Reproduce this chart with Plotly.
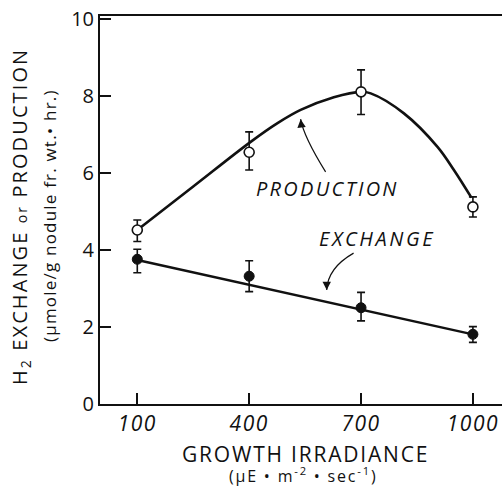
import plotly.graph_objects as go

# Growth irradiance levels (uE m-2 s-1)
irradiance = [100, 400, 700, 1000]

# H2 production (open circles) with upper / lower error limits
production = [4.52, 6.54, 8.11, 5.12]
production_hi = [4.78, 7.07, 8.68, 5.38]
production_lo = [4.22, 6.08, 7.52, 4.86]

# H2 exchange (filled circles) with upper / lower error limits
exchange = [3.76, 3.32, 2.50, 1.81]
exchange_hi = [4.02, 3.72, 2.90, 2.01]
exchange_lo = [3.41, 2.92, 2.16, 1.60]

# Hand-fitted production curve
production_fit_x = [100, 250, 404, 475, 538, 627, 699, 726, 815, 905, 949, 996]
production_fit_y = [4.52, 5.65, 6.81, 7.29, 7.64, 7.97, 8.11, 8.07, 7.55, 6.68, 6.08, 5.36]

# Straight line through the exchange data
exchange_fit_x = [100, 1000]
exchange_fit_y = [3.74, 1.81]

x_ticks = [100, 400, 700, 1000]
y_ticks = [0, 2, 4, 6, 8, 10]

FONT = "Open Sans"
INK = "#111111"
WEIGHT = 400


def spaced(text, px):
    """Wrap text in a span with extra letter spacing (wide lettering look)."""
    return f"<span style='letter-spacing:{px}px'>{text}</span>"


def plus(vals, hi):
    return [h - v for v, h in zip(vals, hi)]


def minus(vals, lo):
    return [v - l for v, l in zip(vals, lo)]


fig = go.Figure()

fig.add_trace(go.Scatter(
    x=production_fit_x, y=production_fit_y, mode="lines",
    line=dict(color=INK, width=2.6, shape="spline", smoothing=1.0),
    hoverinfo="skip", showlegend=False))

fig.add_trace(go.Scatter(
    x=exchange_fit_x, y=exchange_fit_y, mode="lines",
    line=dict(color=INK, width=2.4),
    hoverinfo="skip", showlegend=False))

err_style = dict(type="data", symmetric=False, color=INK, thickness=1.6, width=4)

fig.add_trace(go.Scatter(
    x=irradiance, y=production, mode="markers", name="PRODUCTION",
    marker=dict(symbol="circle", size=10, color="white",
                line=dict(color=INK, width=1.6)),
    error_y=dict(array=plus(production, production_hi),
                 arrayminus=minus(production, production_lo), **err_style),
    showlegend=False))

fig.add_trace(go.Scatter(
    x=irradiance, y=exchange, mode="markers", name="EXCHANGE",
    marker=dict(symbol="circle", size=10, color=INK,
                line=dict(color=INK, width=1)),
    error_y=dict(array=plus(exchange, exchange_hi),
                 arrayminus=minus(exchange, exchange_lo), **err_style),
    showlegend=False))

# Curved label pointers (quadratic paths) with arrowheads at the tips
pointers = [
    # (tail, control, tip)
    ((605, 6.03), (546, 6.95), (538, 7.40)),
    ((680, 3.92), (610, 3.53), (608, 2.96)),
]
for (x0, y0), (cx, cy), (x1, y1) in pointers:
    fig.add_shape(type="path", xref="x", yref="y",
                  path=f"M {x0},{y0} Q {cx},{cy} {x1},{y1}",
                  line=dict(color=INK, width=1.2))

fig.add_annotation(x=538, y=7.40, ax=1, ay=9, text="", showarrow=True,
                   arrowhead=2, arrowsize=1.4, arrowwidth=1.2, arrowcolor=INK)
fig.add_annotation(x=608, y=2.96, ax=0, ay=-9, text="", showarrow=True,
                   arrowhead=2, arrowsize=1.4, arrowwidth=1.2, arrowcolor=INK)

lab_font = dict(family=FONT, size=20, color=INK, style="italic", weight=WEIGHT)
fig.add_annotation(x=610, y=5.60, text=spaced("PRODUCTION", 2.3), showarrow=False,
                   xanchor="center", yanchor="middle", font=lab_font)
fig.add_annotation(x=744, y=4.31, text=spaced("EXCHANGE", 2.6), showarrow=False,
                   xanchor="center", yanchor="middle", font=lab_font)

# Axis titles
title_font = dict(family=FONT, size=20, color=INK, weight=WEIGHT)
fig.add_annotation(
    xref="paper", yref="paper", x=-0.1965, y=0.482, textangle=-90,
    xanchor="center", yanchor="middle",
    text=spaced("H<sub>2</sub> EXCHANGE <span style='font-size:14px'>or</span> PRODUCTION", 2.1),
    showarrow=False, font=title_font)
fig.add_annotation(
    xref="paper", yref="paper", x=-0.127, y=0.487, textangle=-90,
    xanchor="center", yanchor="middle",
    text=spaced("(\u03bcmole/g nodule fr. wt.\u2022 hr.)", 1.2),
    showarrow=False, font=dict(title_font, size=17))
fig.add_annotation(
    xref="paper", yref="paper", x=0.51, y=-0.128,
    xanchor="center", yanchor="middle",
    text=spaced("GROWTH IRRADIANCE", 1.8), showarrow=False,
    font=dict(title_font, size=21))
fig.add_annotation(
    xref="paper", yref="paper", x=0.505, y=-0.184,
    xanchor="center", yanchor="middle",
    text=spaced("(\u03bcE \u2022 m<sup>-2</sup> \u2022 sec<sup>-1</sup>)", 1.8),
    showarrow=False, font=dict(title_font, size=16))

fig.update_layout(
    width=502, height=488,
    margin=dict(l=100, r=0, t=16, b=84),
    paper_bgcolor="white", plot_bgcolor="white",
    font=dict(family=FONT, color=INK),
)
fig.update_xaxes(
    range=[0, 1078], tickvals=x_ticks, ticktext=[spaced(v, 1.5) for v in x_ticks],
    ticks="inside", ticklen=11, tickwidth=1.5, tickcolor=INK,
    showline=True, linecolor=INK, linewidth=2, mirror=True,
    showgrid=False, zeroline=False,
    tickfont=dict(family=FONT, size=21, color=INK, style="italic", weight=WEIGHT),
)
fig.update_yaxes(
    range=[0, 10.08], tickvals=y_ticks, ticktext=[str(v) for v in y_ticks],
    ticks="inside", ticklen=11, tickwidth=1.5, tickcolor=INK,
    showline=True, linecolor=INK, linewidth=2,
    showgrid=False, zeroline=False,
    tickfont=dict(family=FONT, size=20, color=INK, weight=WEIGHT),
)

fig.write_html("out.html")
